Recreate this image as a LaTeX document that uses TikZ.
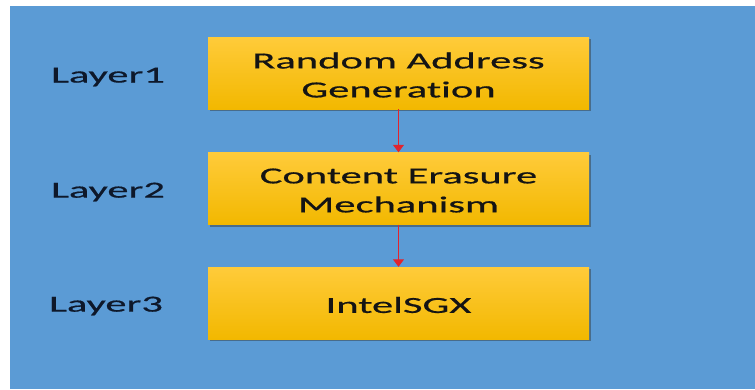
\documentclass[tikz,border=0pt]{standalone}
\usepackage{fontspec}
\setmainfont[FakeStretch=1.85,FakeBold=0.6,Ligatures={NoCommon,NoRare}]{Carlito}
\usetikzlibrary{arrows.meta,shadows}
\definecolor{bgblue}{HTML}{5B9BD5}
\definecolor{goldtop}{HTML}{FFCB3A}
\definecolor{goldbot}{HTML}{F2B800}
\definecolor{arrowred}{HTML}{E0242E}
\definecolor{txtdark}{HTML}{141414}
\definecolor{lbldark}{HTML}{0E182A}
\tikzset{
  layerbox/.style={rectangle, minimum width=381pt, minimum height=72pt, inner sep=0pt,
    top color=goldtop, bottom color=goldbot, draw=none,
    drop shadow={shadow xshift=2pt, shadow yshift=-2pt, opacity=0.45, fill=black!80}},
  boxtext/.style={align=center, text=txtdark, font=\fontsize{23}{29}\selectfont, inner sep=0pt},
  layerlabel/.style={text=lbldark, font=\fontsize{23}{28}\selectfont, inner sep=0pt},
  flow/.style={arrowred, line width=1pt, -{Triangle[width=11pt,length=7.5pt]}}
}
\begin{document}
\begin{tikzpicture}[x=1pt,y=-1pt]
\useasboundingbox (0,0) rectangle (755,389);
\fill[white] (0,0) rectangle (755,389);
\fill[bgblue] (10,6) rectangle (755,389);
\node[layerbox] (b1) at (398.5,73) {};
\node[layerbox] (b2) at (398.5,188.5) {};
\node[layerbox] (b3) at (398.5,303) {};
\node[boxtext] (t1) at (398.5,75) {Random Address\\Generation};
\node[boxtext] (t2) at (398.5,190.5) {Content Erasure\\Mechanism};
\node[boxtext] (t3) at (398.5,305) {IntelSGX};
\node[layerlabel] (l1) at (108,77) {Layer1};
\node[layerlabel] (l2) at (108,192) {Layer2};
\node[layerlabel] (l3) at (106,306) {Layer3};
\draw[flow] (b1.south) -- (b2.north);
\draw[flow] (b2.south) -- (b3.north);
\end{tikzpicture}
\end{document}
